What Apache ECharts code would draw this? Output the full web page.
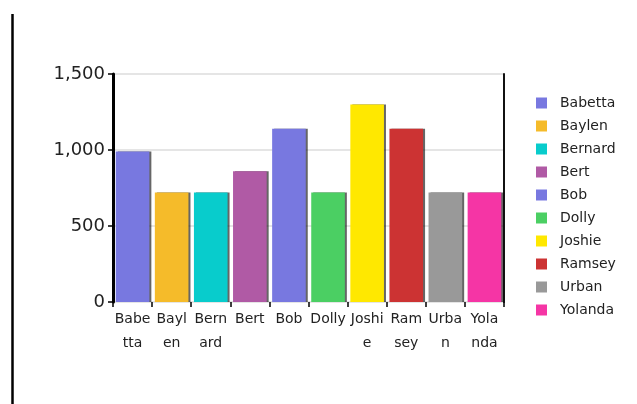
<!DOCTYPE html>
<html>
<head>
<meta charset="utf-8">
<style>
  html, body { margin: 0; padding: 0; background: #fff; }
  #chart { width: 637px; height: 404px; }
</style>
<script src="https://cdn.jsdelivr.net/npm/echarts@6/dist/echarts.min.js"></script>
</head>
<body>
<div id="chart"></div>
<script>
// People and their totals
const names = ['Babetta', 'Baylen', 'Bernard', 'Bert', 'Bob', 'Dolly', 'Joshie', 'Ramsey', 'Urban', 'Yolanda'];
const values = [990, 720, 720, 860, 1140, 720, 1300, 1140, 720, 720];
const colors = ['#7878e0', '#f5bb2a', '#08cccc', '#b05aa5', '#7878e0', '#4bcf63', '#ffe800', '#cc3333', '#999999', '#f535a5'];

// Category labels as they wrap under the narrow bars
const xTickLabels = ['Babe\ntta', 'Bayl\nen', 'Bern\nard', 'Bert', 'Bob', 'Dolly', 'Joshi\ne', 'Ram\nsey', 'Urba\nn', 'Yola\nnda'];

// Value axis ticks
const yTicks = [0, 500, 1000, 1500];

const font = 'DejaVu Sans';

// One series per person so the legend lists every name; a shared stack
// keeps each bar centred in its own category slot.
const series = names.map((name, i) => ({
  name: name,
  type: 'bar',
  stack: 'people',
  barCategoryGap: '14%',
  itemStyle: {
    color: colors[i],
    shadowColor: 'rgba(0,0,0,0.6)',
    shadowOffsetX: 2,
    shadowOffsetY: 0,
    shadowBlur: 0
  },
  data: values.map((v, j) => (j === i ? v : '-'))
}));

const chart = echarts.init(document.getElementById('chart'), null, { renderer: 'canvas' });
chart.setOption({
  animation: false,
  backgroundColor: '#fff',
  color: colors,
  grid: { left: 113, right: 133, top: 74, bottom: 102 },
  legend: {
    orient: 'vertical',
    left: 531,
    top: 91,
    itemWidth: 11,
    itemHeight: 11,
    itemGap: 9,
    icon: 'rect',
    textStyle: { fontFamily: font, fontSize: 14, color: '#222', padding: [0, 0, 0, 8] },
    data: names
  },
  xAxis: {
    type: 'category',
    data: names,
    axisLine: { show: false },
    axisTick: { show: true, interval: 0, length: 5, lineStyle: { color: '#000', width: 1.5 } },
    axisLabel: {
      interval: 0,
      margin: 5,
      fontFamily: font,
      fontSize: 14,
      lineHeight: 24,
      color: '#222',
      formatter: (v, i) => xTickLabels[i]
    },
    splitLine: { show: false }
  },
  yAxis: [
    {
      type: 'value',
      min: yTicks[0],
      max: yTicks[yTicks.length - 1],
      interval: yTicks[1] - yTicks[0],
      axisLine: { show: true, lineStyle: { color: '#000', width: 3 } },
      axisTick: { show: true, length: 5, lineStyle: { color: '#000', width: 1.5 } },
      axisLabel: {
        margin: 8,
        fontFamily: font,
        fontSize: 18,
        color: '#222',
        formatter: v => v.toLocaleString('en-US')
      },
      splitLine: { show: true, lineStyle: { color: '#dddddd', width: 1.5 } }
    },
    {
      type: 'value',
      position: 'right',
      min: yTicks[0],
      max: yTicks[yTicks.length - 1],
      interval: yTicks[1] - yTicks[0],
      axisLine: { show: true, lineStyle: { color: '#111', width: 2 } },
      axisTick: { show: false },
      axisLabel: { show: false },
      splitLine: { show: false }
    }
  ],
  graphic: [
    {
      type: 'line',
      shape: { x1: 12.5, y1: 14, x2: 12.5, y2: 404 },
      style: { stroke: '#000', lineWidth: 2.5 }
    }
  ],
  series: series
});
</script>
</body>
</html>
